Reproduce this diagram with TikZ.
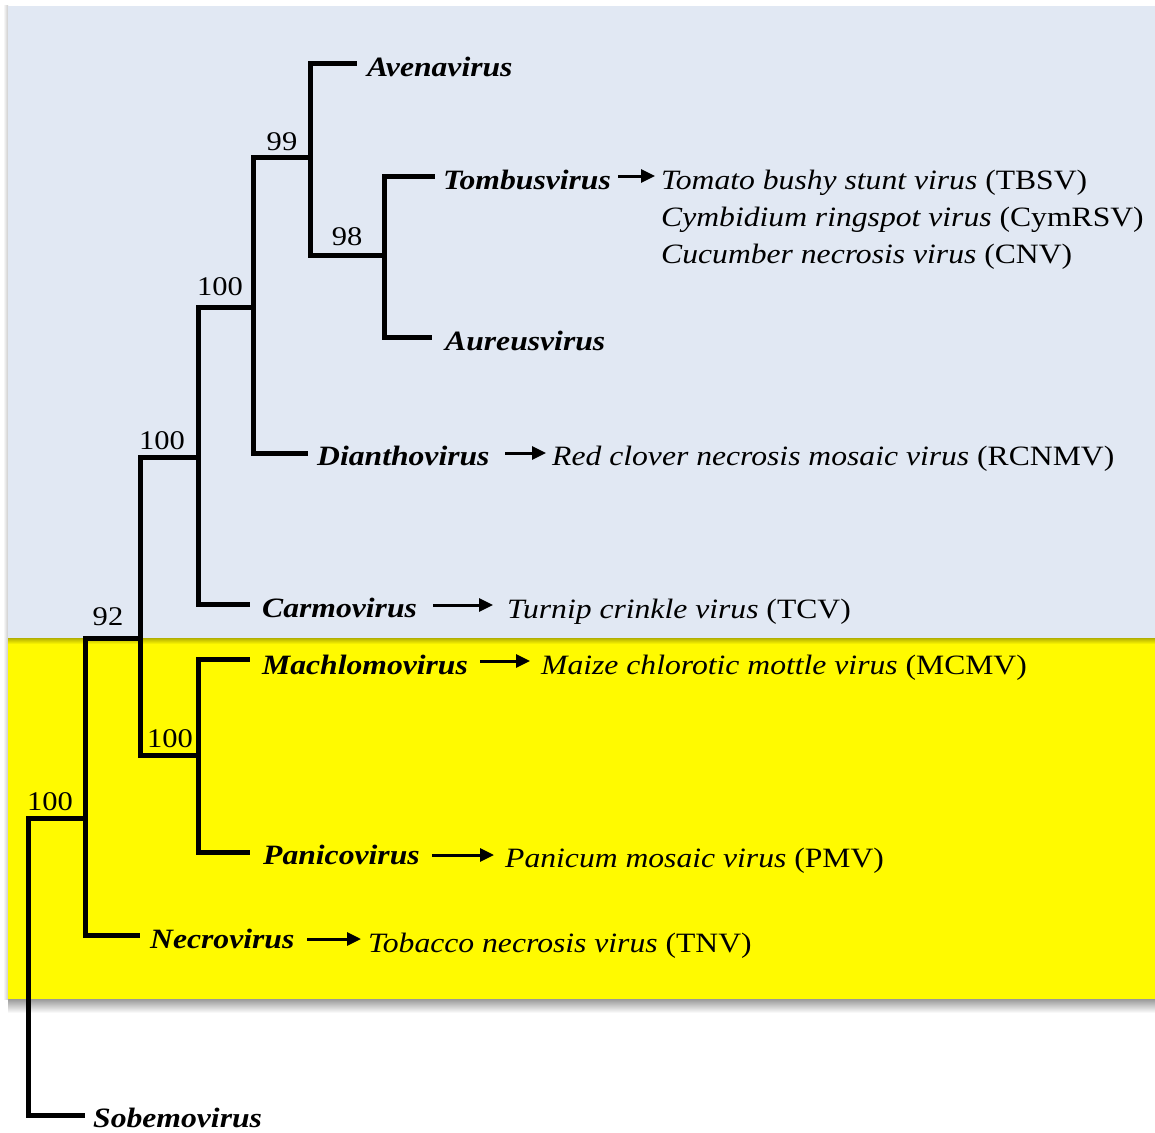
\documentclass[tikz,border=0pt]{standalone}
\usepackage{fontspec}
\setmainfont{Liberation Serif}[FakeStretch=1.13]
\usetikzlibrary{arrows.meta}
\definecolor{bgblue}{RGB}{225,232,243}
\definecolor{bgyellow}{RGB}{255,250,0}
\begin{document}
\begin{tikzpicture}[x=1pt,y=-1pt,
  branch/.style={line width=5pt, line join=miter},
  genus/.style={anchor=base west, inner sep=0pt, font=\fontsize{28}{34}\selectfont\bfseries\itshape},
  species/.style={anchor=base west, inner sep=0pt, font=\fontsize{28}{34}\selectfont},
  boot/.style={anchor=base, inner sep=0pt, font=\fontsize{27}{32}\selectfont},
  arr/.style={line width=3pt, -{Triangle[length=14pt,width=13pt]}}]
\useasboundingbox (0,0) rectangle (1155,1132);
\fill[white] (0,0) rectangle (1155,1132);
% backgrounds
\shade[top color=black!40, bottom color=white] (8,999) rectangle (1155,1013);
\shade[left color=white, right color=black!20] (3,6) rectangle (8,999);
\fill[bgblue] (8,6) rectangle (1155,638);
\fill[bgyellow] (8,638) rectangle (1155,999);
\shade[top color=bgyellow!70!black, bottom color=bgyellow] (8,638) rectangle (1155,644);

% internal nodes
\coordinate (r0) at (28,966);
\coordinate (n92) at (85,818);
\coordinate (n100b) at (140,638);
\coordinate (n100c) at (198,457);
\coordinate (n100d) at (198,755);
\coordinate (n100e) at (253,307);
\coordinate (n99) at (310,157);
\coordinate (n98) at (384,255);
% leaf ends
\coordinate (eSobe) at (85,1115);
\coordinate (eNecr) at (140,935);
\coordinate (eCarm) at (250,604);
\coordinate (eMach) at (250,659);
\coordinate (ePani) at (250,852);
\coordinate (eDian) at (308,453);
\coordinate (eAven) at (357,63);
\coordinate (eTomb) at (435,176);
\coordinate (eAure) at (432,337);

% branches
\draw[branch] (r0) |- (n92);
\draw[branch] (r0) |- (eSobe);
\draw[branch] (n92) |- (n100b);
\draw[branch] (n92) |- (eNecr);
\draw[branch] (n100b) |- (n100c);
\draw[branch] (n100b) |- (n100d);
\draw[branch] (n100c) |- (n100e);
\draw[branch] (n100c) |- (eCarm);
\draw[branch] (n100d) |- (eMach);
\draw[branch] (n100d) |- (ePani);
\draw[branch] (n100e) |- (n99);
\draw[branch] (n100e) |- (eDian);
\draw[branch] (n99) |- (eAven);
\draw[branch] (n99) |- (n98);
\draw[branch] (n98) |- (eTomb);
\draw[branch] (n98) |- (eAure);

% bootstrap values
\node[boot] (b1) at (50,810) {100};
\node[boot] (b2) at (108,625) {92};
\node[boot] (b3) at (162,449) {100};
\node[boot] (b4) at (170,747) {100};
\node[boot] (b5) at (220,295) {100};
\node[boot] (b6) at (282,150) {99};
\node[boot] (b7) at (347,245) {98};

% genus labels
\node[genus] (aven) at (367,76) {Avenavirus};
\node[genus] (tomb) at (443,189) {Tombusvirus};
\node[genus] (aure) at (445,350) {Aureusvirus};
\node[genus] (dian) at (317,465) {Dianthovirus};
\node[genus] (carm) at (262,617) {Carmovirus};
\node[genus] (mach) at (262,674) {Machlomovirus};
\node[genus] (pani) at (263,864) {Panicovirus};
\node[genus] (necr) at (150,948) {Necrovirus};
\node[genus] (sobe) at (93,1127) {Sobemovirus};

% species
\node[species] (tbsv) at (661,189) {\textit{Tomato bushy stunt virus} (TBSV)};
\node[species] (cym) at (661,226) {\textit{Cymbidium ringspot virus} (CymRSV)};
\node[species] (cnv) at (661,263) {\textit{Cucumber necrosis virus} (CNV)};
\node[species] (rcnmv) at (552,465) {\textit{Red clover necrosis mosaic virus} (RCNMV)};
\node[species] (tcv) at (507,618) {\textit{Turnip crinkle virus} (TCV)};
\node[species] (mcmv) at (541,674) {\textit{Maize chlorotic mottle virus} (MCMV)};
\node[species] (pmv) at (505,867) {\textit{Panicum mosaic virus} (PMV)};
\node[species] (tnv) at (368,952) {\textit{Tobacco necrosis virus} (TNV)};

% arrows
\draw[arr] ([shift={(-43pt,13pt)}]tbsv.base west) -- ([shift={(-6pt,13pt)}]tbsv.base west);
\draw[arr] ([shift={(-47pt,12pt)}]rcnmv.base west) -- ([shift={(-6pt,12pt)}]rcnmv.base west);
\draw[arr] ([shift={(-74pt,13pt)}]tcv.base west) -- ([shift={(-14pt,13pt)}]tcv.base west);
\draw[arr] ([shift={(-61pt,13pt)}]mcmv.base west) -- ([shift={(-11pt,13pt)}]mcmv.base west);
\draw[arr] ([shift={(-73pt,12pt)}]pmv.base west) -- ([shift={(-11pt,12pt)}]pmv.base west);
\draw[arr] ([shift={(-61pt,13pt)}]tnv.base west) -- ([shift={(-7pt,13pt)}]tnv.base west);
\end{tikzpicture}
\end{document}
